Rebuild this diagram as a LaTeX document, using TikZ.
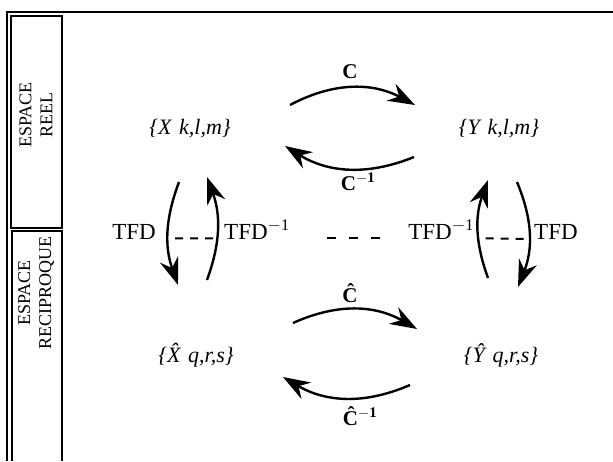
\documentclass[tikz,border=0pt]{standalone}
\usepackage{amsmath,amssymb}
\usepackage{fontspec}
\setmainfont{Liberation Serif}
\usepackage{tikz}
\usetikzlibrary{arrows.meta}

\begin{document}
\begin{tikzpicture}[
    x=1pt, y=1pt, % picture measured in pixels of the page
    set/.style   = {inner sep=0pt, font=\fontsize{22}{26}\selectfont\itshape},
    lab/.style   = {inner sep=0pt, font=\fontsize{21}{25}\selectfont\bfseries},
    tfd/.style   = {inner sep=0pt, font=\fontsize{23}{27}\selectfont},
    side/.style  = {rotate=90, align=center, inner sep=0pt, font=\fontsize{18}{21}\selectfont},
    % Style for the curved maps
    maparc/.style = {-{Stealth[length=27pt,width=19pt,inset=9pt]}, line width=2.4pt},
    link/.style  = {line width=2pt, dash pattern=on 8pt off 7pt, dash phase=8pt},
    frame/.style = {line width=1.6pt}
  ]
  \useasboundingbox (0,0) rectangle (613,461);

  % ===== Left: frame and side labels =====
  \draw[frame] (7,0) -- (7,449) -- (613,449);
  \draw[frame] (11,233) rectangle (62,445);
  \draw[frame] (12,0) -- (12,230) -- (62,230) -- (62,0);
  \node[side] (reel) at (36,346) {ESPACE\\REEL};
  \node[side] (reci) at (36,168) {ESPACE\\RECIPROQUE};

  % ===== The four sets =====
  \node[set] (X)  at (190,332) {\{X\hspace{0.35em}k,l,m\}};
  \node[set] (Y)  at (499,332) {\{Y\hspace{0.35em}k,l,m\}};
  \node[set] (Xh) at (196,106) {\{\^X\hspace{0.35em}q,r,s\}};
  \node[set] (Yh) at (501,106) {\{\^Y\hspace{0.35em}q,r,s\}};

  % ===== Top: C and its inverse =====
  \coordinate (c1a) at (290,356); \coordinate (c1b) at (415,356);
  \coordinate (c2a) at (414,304); \coordinate (c2b) at (285,315);
  \draw[maparc] (c1a) to[bend left=28] (c1b);
  \draw[maparc] (c2a) to[bend left=27] (c2b);
  \node[lab] (cl)  at (350,389) {C};
  \node[lab] (cil) at (358,279) {C\textsuperscript{$-$1}};

  % ===== Bottom: C hat and its inverse =====
  \coordinate (h1a) at (293,138); \coordinate (h1b) at (417,132);
  \coordinate (h2a) at (410,76);  \coordinate (h2b) at (283,84);
  \draw[maparc] (h1a) to[bend left=27] (h1b);
  \draw[maparc] (h2a) to[bend left=27] (h2b);
  \node[lab] (chl)  at (350,168) {\^C};
  \node[lab] (chil) at (360,45)  {\^C\textsuperscript{$-$1}};

  % ===== Left pair: TFD down, inverse up =====
  \coordinate (l1a) at (179,279); \coordinate (l1b) at (178,176);
  \coordinate (l2a) at (207,181); \coordinate (l2b) at (207,284);
  \draw[maparc] (l1a) to[bend right=20] coordinate[pos=0.55] (lm1) (l1b);
  \draw[maparc] (l2a) to[bend right=20] coordinate[pos=0.40] (lm2) (l2b);
  \draw[link] (lm1) -- (lm2);
  \node[tfd, anchor=east] (tfd1)  at (156,229) {TFD};
  \node[tfd, anchor=west] (tfdi1) at (224,231) {TFD\textsuperscript{$-$1}};

  % ===== Right pair: inverse up, TFD down =====
  \coordinate (r1a) at (488,183); \coordinate (r1b) at (488,281);
  \coordinate (r2a) at (517,279); \coordinate (r2b) at (518,174);
  \draw[maparc] (r1a) to[bend left=20] coordinate[pos=0.40] (rm1) (r1b);
  \draw[maparc] (r2a) to[bend left=22] coordinate[pos=0.545] (rm2) (r2b);
  \draw[link] (rm1) -- (rm2);
  \node[tfd, anchor=east] (tfdi2) at (474,231) {TFD\textsuperscript{$-$1}};
  \node[tfd, anchor=west] (tfd2)  at (534,229) {TFD};

  % middle dashes
  \coordinate (d1) at (327,223); \coordinate (d2) at (380,223);
  \draw[link, dash pattern=on 9pt off 13pt, dash phase=0pt] (d1) -- (d2);

\end{tikzpicture}
\end{document}
